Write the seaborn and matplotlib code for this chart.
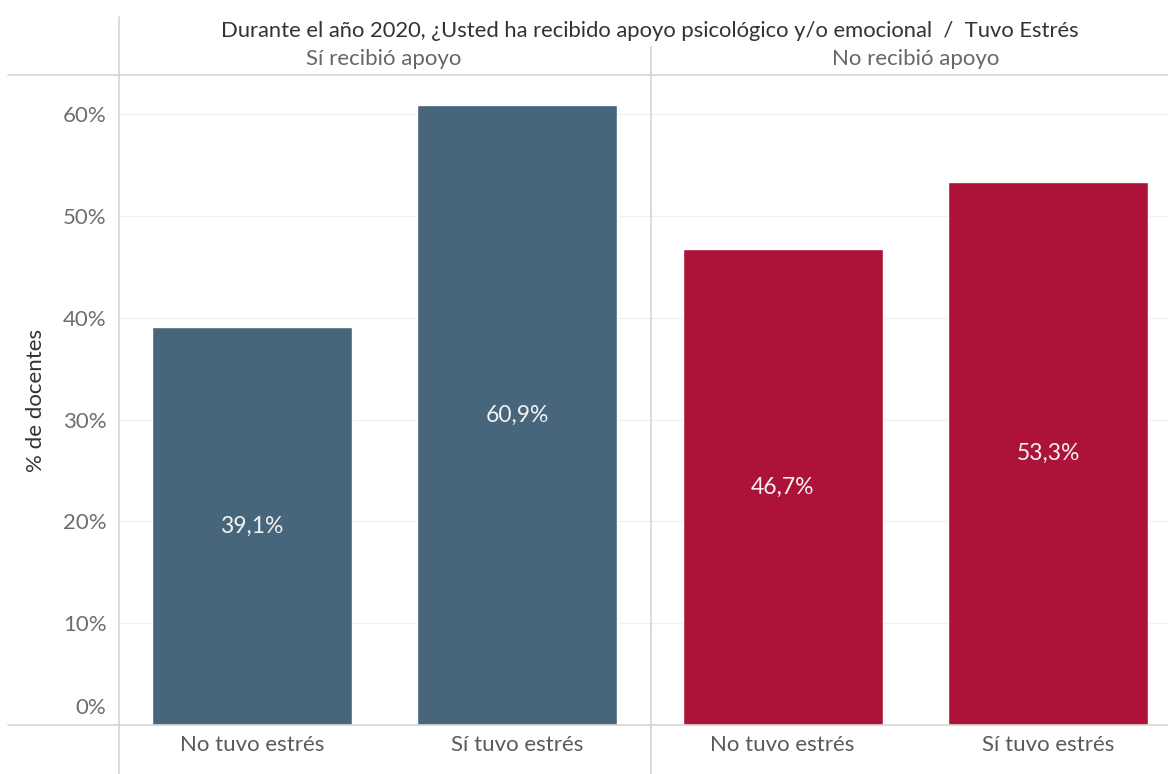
import matplotlib
matplotlib.use("Agg")
import matplotlib.pyplot as plt
from matplotlib.lines import Line2D
import pandas as pd
import seaborn as sns

# Data
apoyo = ["Sí recibió apoyo", "Sí recibió apoyo", "No recibió apoyo", "No recibió apoyo"]
estres = ["No tuvo estrés", "Sí tuvo estrés", "No tuvo estrés", "Sí tuvo estrés"]
porcentaje = [39.1, 60.9, 46.7, 53.3]
grupos = ["Sí recibió apoyo", "No recibió apoyo"]
colores = {"Sí recibió apoyo": "#47667B", "No recibió apoyo": "#AD1339"}
yticks = [0, 10, 20, 30, 40, 50, 60]

df = pd.DataFrame({"apoyo": apoyo, "estres": estres, "pct": porcentaje})
df["clave"] = df["apoyo"] + " | " + df["estres"]

sns.set_theme(style="white")
plt.rcParams["font.family"] = ["Lato", "DejaVu Sans"]

W, H = 1168, 774
fig = plt.figure(figsize=(W / 100, H / 100), dpi=100)
ax = fig.add_axes([119 / W, 1 - 725 / H, 1 - 119 / W, (725 - 75) / H])

sns.barplot(data=df, x="clave", y="pct", hue="apoyo", palette=colores,
            order=list(df["clave"]), hue_order=grupos, dodge=False,
            width=0.753, saturation=1, legend=False, ax=ax, zorder=3)

ax.set_xlim(-0.5, 3.452)
ax.set_ylim(0, 63.83)

# light horizontal grid
for t in yticks[1:]:
    ax.axhline(t, color="#F0F0F0", lw=1, zorder=1)

tick_c = "#6E6E6E"
ax.set_yticks(yticks)
ax.set_yticklabels(["" if t == 0 else f"{t}%" for t in yticks], fontsize=16, color=tick_c)
# the 0% label sits just above the baseline
ax.annotate(f"{yticks[0]}%", xy=(0, yticks[0]), xycoords=("axes fraction", "data"),
            xytext=(-9, 12), textcoords="offset points", ha="right", va="center",
            fontsize=16, color=tick_c)
ax.set_xticks(range(len(estres)))
ax.set_xticklabels(estres, fontsize=16, color="#5A5A5A")
ax.tick_params(axis="y", length=0, pad=9)
ax.tick_params(axis="x", length=0, pad=7)
ax.set_xlabel("")
ax.set_ylabel("% de docentes", fontsize=16, color="#333333", labelpad=12)
for s in ax.spines.values():
    s.set_visible(False)

# value labels in the middle of each bar
for i, v in enumerate(porcentaje):
    ax.text(i, v / 2, f"{v:.1f}%".replace(".", ","), ha="center", va="center",
            fontsize=16.5, color="#F2F2F2", zorder=4)

# frame lines
line_c = "#D4D4D4"
fig.add_artist(Line2D([119 / W, 119 / W], [1 - 17 / H, 0], color=line_c, lw=1.2))
fig.add_artist(Line2D([651 / W, 651 / W], [1 - 47 / H, 0], color=line_c, lw=1.2))
fig.add_artist(Line2D([8 / W, 1], [1 - 75 / H, 1 - 75 / H], color=line_c, lw=1.2))
fig.add_artist(Line2D([8 / W, 1], [1 - 725 / H, 1 - 725 / H], color=line_c, lw=1.2))

# header texts
fig.text(650 / W, 1 - 31 / H,
         "Durante el año 2020, ¿Usted ha recibido apoyo psicológico y/o emocional  /  Tuvo Estrés",
         ha="center", va="center", fontsize=15.8, color="#333333")
fig.text(384 / W, 1 - 59 / H, grupos[0], ha="center", va="center", fontsize=16, color="#666666")
fig.text(916 / W, 1 - 59 / H, grupos[1], ha="center", va="center", fontsize=16, color="#666666")

fig.savefig("out.png", dpi=100, facecolor="white")
